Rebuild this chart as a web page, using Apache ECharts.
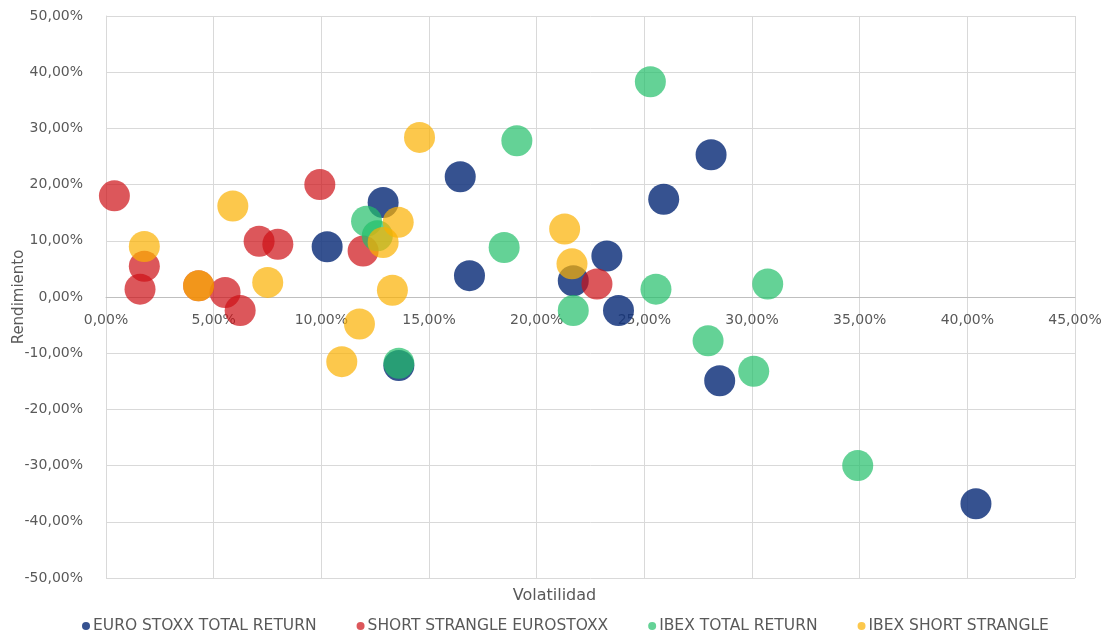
<!DOCTYPE html>
<html>
<head>
<meta charset="utf-8">
<script src="https://cdn.jsdelivr.net/npm/echarts@6/dist/echarts.min.js"></script>
<style>
  html, body { margin: 0; padding: 0; background: #fff; }
  #chart { width: 1109px; height: 637px; }
</style>
</head>
<body>
<div id="chart"></div>
<script>
// Volatility (%) vs return (%) per year for each strategy
const seriesNames = [
  'EURO STOXX TOTAL RETURN',
  'SHORT STRANGLE EUROSTOXX',
  'IBEX TOTAL RETURN',
  'IBEX SHORT STRANGLE'
];

const euroStoxxTR = [
  [12.87, 16.8], [10.27, 8.95], [16.45, 21.4], [16.88, 3.8], [21.7, 2.9], [23.26, 7.3],
  [23.8, -2.4], [25.9, 17.4], [28.1, 25.3], [28.5, -14.9], [40.4, -36.8], [13.6, -12.2]
];

const shortStrangleEuro = [
  [0.39, 18.0], [1.78, 5.45], [1.58, 1.4], [4.3, 2.0], [5.53, 0.8], [6.23, -2.4],
  [7.11, 9.9], [7.98, 9.4], [9.93, 20.0], [11.94, 8.2], [22.8, 2.3]
];

const ibexTR = [
  [25.28, 38.3], [19.08, 27.8], [18.49, 8.8], [21.7, -2.4], [25.54, 1.4], [30.73, 2.3],
  [27.96, -7.8], [30.08, -13.2], [34.91, -30.0], [12.1, 13.5], [12.6, 10.9], [13.6, -11.8]
];

const ibexShortStrangle = [
  [14.56, 28.4], [5.89, 16.2], [1.78, 9.0], [4.3, 2.0], [7.51, 2.6], [13.3, 1.2],
  [11.77, -4.8], [10.95, -11.5], [13.57, 13.3], [12.87, 9.7], [21.3, 12.1], [21.64, 5.9]
];

const xTicks = { min: 0, max: 45, interval: 5 };
const yTicks = { min: -50, max: 50, interval: 10 };

const colors = ['#13347d', '#cd1016', '#22bf69', '#fbb000'];
const opacities = [0.85, 0.7, 0.7, 0.7];

const fmt = v => v.toFixed(2).replace('.', ',') + '%';
const textColor = '#595959';
const fontFamily = '"DejaVu Sans", "Open Sans", sans-serif';

// plot box
const gridLeft = 106, gridRight = 34, gridTop = 16, gridBottom = 59;
const plotHeight = 637 - gridTop - gridBottom;
// the horizontal axis sits on the 0 % line of the y range
const zeroOffset = -plotHeight * (0 - yTicks.min) / (yTicks.max - yTicks.min);

const chart = echarts.init(document.getElementById('chart'), null, { renderer: 'canvas' });

const allData = [euroStoxxTR, shortStrangleEuro, ibexTR, ibexShortStrangle];

chart.setOption({
  animation: false,
  backgroundColor: '#fff',
  textStyle: { fontFamily: fontFamily },
  title: {
    text: 'Volatilidad',
    left: 'center',
    top: 588,
    padding: 0,
    textStyle: { fontSize: 16, fontWeight: 'normal', color: textColor, fontFamily: fontFamily }
  },
  legend: {
    top: 618,
    left: 82,
    padding: 0,
    itemGap: 40,
    itemWidth: 8,
    itemHeight: 8,
    icon: 'circle',
    textStyle: { fontSize: 15.5, color: textColor, fontFamily: fontFamily, padding: [0, 0, 0, -2] },
    data: seriesNames
  },
  grid: {
    left: gridLeft, right: gridRight, top: gridTop, bottom: gridBottom,
    containLabel: false,
    outerBoundsMode: 'none'
  },
  xAxis: {
    type: 'value',
    position: 'bottom',
    offset: zeroOffset,
    min: xTicks.min, max: xTicks.max, interval: xTicks.interval,
    axisLine: { onZero: false, lineStyle: { color: '#bfbfbf' } },
    axisTick: { show: false },
    axisLabel: { formatter: fmt, color: textColor, fontSize: 14, margin: 16 },
    splitLine: { show: true, lineStyle: { color: '#d9d9d9' } }
  },
  yAxis: {
    type: 'value',
    min: yTicks.min, max: yTicks.max, interval: yTicks.interval,
    name: 'Rendimiento',
    nameLocation: 'middle',
    nameGap: 79,
    nameMoveOverlap: false,
    nameTextStyle: { fontSize: 15, color: textColor },
    axisLine: { show: true, lineStyle: { color: '#d9d9d9' } },
    axisTick: { show: false },
    axisLabel: { formatter: fmt, color: textColor, fontSize: 14, margin: 23 },
    splitLine: { show: true, lineStyle: { color: '#d9d9d9' } }
  },
  series: seriesNames.map((name, i) => ({
    name: name,
    type: 'scatter',
    symbol: 'circle',
    symbolSize: 31,
    data: allData[i],
    itemStyle: { color: colors[i], opacity: opacities[i] },
    emphasis: { disabled: true }
  }))
});
</script>
</body>
</html>
